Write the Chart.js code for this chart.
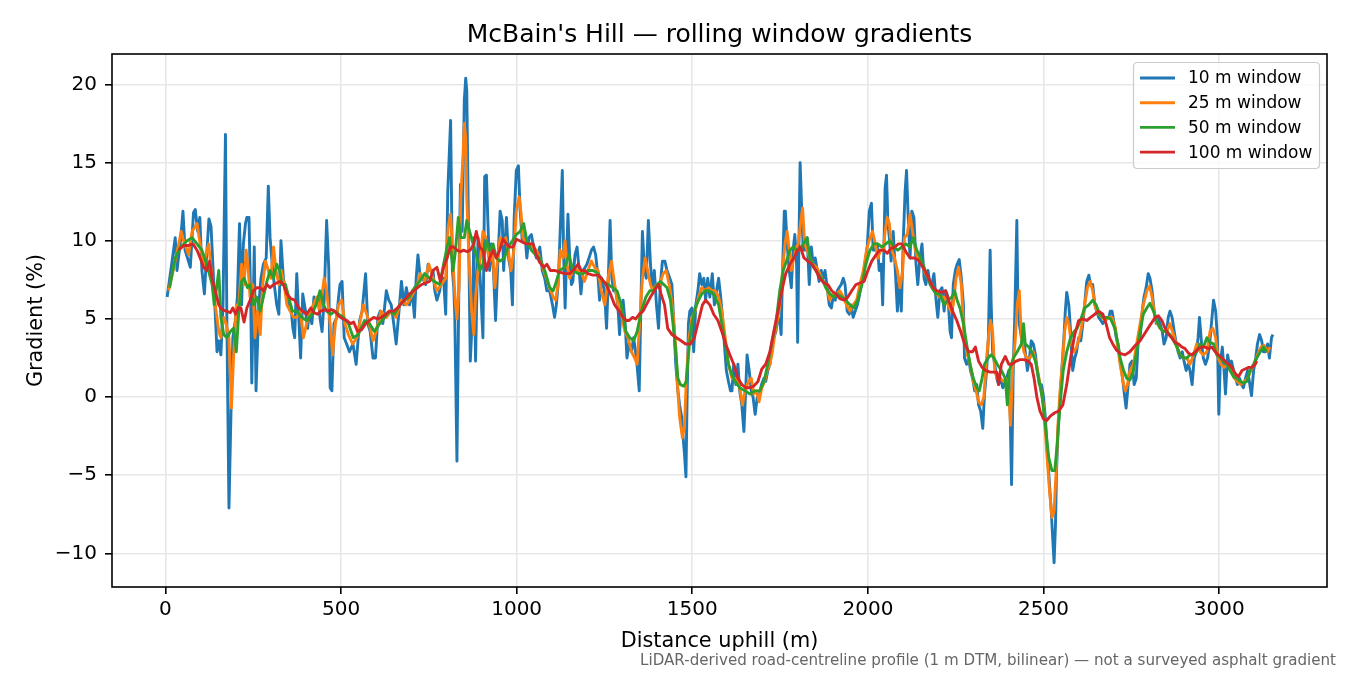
<!DOCTYPE html>
<html>
<head>
<meta charset="utf-8">
<title>McBain's Hill — rolling window gradients</title>
<script src="https://cdn.jsdelivr.net/npm/chart.js@4"></script>
<style>
  html, body { margin: 0; padding: 0; background: #fff; }
  canvas { display: block; }
</style>
</head>
<body>
<canvas id="chart" width="1350" height="675" style="width:1350px;height:675px"></canvas>
<script>
// values (distance in m, gradient in %)

const dist10 = [
  5, 19, 28, 33, 43, 50, 56, 63, 71, 80,
  85, 92, 98, 104, 111, 117, 124, 130, 137, 142,
  147, 152, 158, 164, 171, 175, 181, 187, 192, 199,
  205, 211, 217, 222, 228, 232, 238, 243, 246, 253,
  258, 266, 272, 279, 287, 293, 298, 304, 310, 317,
  323, 329, 336, 342, 349, 357, 363, 368, 374, 380,
  385, 391, 399, 405, 410, 417, 423, 429, 435, 440,
  446, 452, 459, 465, 469, 474, 480, 488, 493, 497,
  503, 509, 516, 524, 534, 543, 553, 560, 570, 576,
  583, 591, 598, 605, 612, 619, 629, 636, 643, 650,
  657, 665, 672, 679, 686, 695, 703, 709, 714, 719,
  726, 733, 741, 748, 754, 762, 767, 773, 781, 786,
  792, 798, 804, 812, 817, 821, 824, 830, 836, 840,
  845, 851, 855, 858, 862, 868, 874, 878, 883, 890,
  897, 904, 909, 914, 918, 923, 928, 934, 940, 947,
  953, 959, 963, 971, 977, 983, 988, 993, 999, 1005,
  1010, 1016, 1023, 1029, 1035, 1042, 1048, 1056, 1066, 1073,
  1080, 1086, 1094, 1102, 1108, 1113, 1118, 1122, 1126, 1130,
  1134, 1138, 1142, 1146, 1151, 1156, 1160, 1166, 1172, 1178,
  1183, 1189, 1195, 1200, 1206, 1213, 1219, 1225, 1232, 1236,
  1242, 1250, 1256, 1261, 1266, 1271, 1276, 1282, 1288, 1293,
  1298, 1303, 1309, 1314, 1320, 1327, 1333, 1341, 1349, 1354,
  1358, 1364, 1369, 1375, 1381, 1387, 1392, 1398, 1404, 1409,
  1415, 1422, 1428, 1436, 1442, 1447, 1453, 1459, 1464, 1470,
  1474, 1478, 1482, 1485, 1489, 1493, 1499, 1504, 1510, 1516,
  1521, 1527, 1533, 1538, 1544, 1550, 1557, 1563, 1569, 1575,
  1580, 1586, 1592, 1597, 1603, 1609, 1613, 1618, 1624, 1630,
  1635, 1641, 1647, 1652, 1656, 1662, 1668, 1673, 1679, 1685,
  1690, 1697, 1704, 1709, 1715, 1721, 1727, 1732, 1738, 1744,
  1749, 1753, 1757, 1762, 1765, 1770, 1776, 1782, 1787, 1792,
  1797, 1800, 1803, 1807, 1812, 1816, 1821, 1827, 1833, 1839,
  1844, 1850, 1856, 1861, 1867, 1873, 1878, 1884, 1890, 1896,
  1901, 1907, 1913, 1918, 1924, 1930, 1935, 1941, 1947, 1952,
  1958, 1964, 1970, 1975, 1981, 1987, 1992, 1998, 2004, 2010,
  2015, 2021, 2027, 2032, 2038, 2042, 2045, 2049, 2053, 2057,
  2061, 2066, 2072, 2078, 2084, 2089, 2095, 2101, 2106, 2110,
  2114, 2120, 2125, 2131, 2137, 2142, 2148, 2154, 2160, 2165,
  2171, 2177, 2182, 2188, 2194, 2199, 2205, 2211, 2217, 2222,
  2228, 2234, 2238, 2243, 2249, 2254, 2260, 2266, 2272, 2275,
  2281, 2287, 2292, 2298, 2304, 2310, 2315, 2321, 2327, 2332,
  2338, 2343, 2348, 2351, 2355, 2361, 2367, 2372, 2378, 2384,
  2389, 2395, 2401, 2405, 2409, 2414, 2418, 2424, 2427, 2431,
  2437, 2443, 2448, 2454, 2460, 2465, 2471, 2477, 2482, 2488,
  2494, 2500, 2505, 2511, 2517, 2522, 2526, 2530, 2534, 2537,
  2541, 2547, 2553, 2558, 2562, 2566, 2572, 2577, 2583, 2589,
  2594, 2600, 2606, 2612, 2617, 2623, 2629, 2634, 2640, 2646,
  2651, 2657, 2663, 2669, 2674, 2680, 2686, 2690, 2695, 2701,
  2707, 2712, 2718, 2724, 2729, 2735, 2741, 2746, 2752, 2758,
  2764, 2769, 2775, 2781, 2786, 2792, 2798, 2803, 2809, 2815,
  2821, 2826, 2832, 2838, 2843, 2849, 2855, 2860, 2866, 2872,
  2878, 2883, 2889, 2895, 2900, 2906, 2912, 2917, 2923, 2929,
  2935, 2940, 2944, 2950, 2955, 2961, 2967, 2973, 2978, 2984,
  2990, 2995, 2999, 3003, 3009, 3014, 3018, 3024, 3029, 3035,
  3041, 3047, 3052, 3058, 3064, 3069, 3075, 3081, 3086, 3092,
  3098, 3104, 3109, 3115, 3121, 3126, 3132, 3138, 3143, 3149,
  3153
];
const grad10 = [
  6.4, 8.7, 10.2, 8.1, 10.0, 11.9, 9.4, 8.9, 8.3, 11.8,
  12.0, 10.6, 11.5, 8.1, 6.6, 8.9, 11.4, 10.9, 7.6, 5.3,
  2.9, 3.6, 2.7, 5.9, 16.8, 4.9, -7.1, -0.7, 3.8, 4.9,
  6.4, 11.1, 5.9, 9.8, 11.1, 11.5, 11.5, 5.9, 0.9, 9.6,
  0.4, 5.9, 7.6, 8.5, 8.9, 13.5, 10.2, 8.5, 7.2, 5.9,
  5.3, 10.0, 7.6, 6.8, 5.9, 5.9, 4.4, 3.8, 7.9, 4.9,
  2.5, 6.6, 5.5, 4.4, 5.5, 4.7, 6.4, 5.9, 6.4, 5.1,
  4.2, 6.2, 11.3, 8.3, 0.6, 0.4, 4.7, 5.1, 6.4, 7.2,
  7.4, 3.8, 3.4, 2.9, 3.4, 2.1, 4.9, 5.5, 7.9, 4.7,
  4.2, 2.5, 2.5, 5.1, 5.5, 4.7, 6.8, 6.2, 5.9, 4.7,
  3.4, 5.5, 7.4, 5.9, 7.0, 5.9, 6.8, 5.1, 7.6, 9.1,
  7.6, 7.6, 7.2, 8.5, 8.1, 8.1, 6.8, 6.2, 6.8, 7.6,
  7.6, 5.3, 13.2, 17.7, 8.1, 7.0, 5.1, -4.1, 8.1, 13.6,
  10.6, 19.0, 20.4, 19.6, 12.4, 2.3, 5.1, 10.2, 2.3, 10.2,
  7.2, 3.8, 14.1, 14.2, 11.3, 8.1, 9.8, 8.1, 4.9, 8.9,
  11.9, 11.3, 8.1, 11.5, 8.9, 8.1, 5.9, 11.5, 14.5, 14.8,
  11.9, 10.0, 10.6, 8.9, 10.2, 10.4, 9.6, 8.9, 9.6, 8.1,
  7.6, 6.8, 6.8, 5.9, 5.1, 5.9, 7.2, 9.4, 11.9, 14.5,
  8.9, 5.7, 8.9, 11.7, 8.9, 7.2, 7.4, 9.1, 9.6, 8.1,
  6.6, 8.1, 8.3, 8.5, 8.9, 9.4, 9.6, 9.1, 7.6, 6.2,
  7.6, 6.8, 4.4, 7.6, 11.3, 7.6, 6.8, 6.8, 5.9, 4.0,
  5.9, 6.2, 4.7, 2.5, 3.4, 2.9, 3.8, 2.5, 0.4, 6.2,
  10.6, 8.1, 7.6, 11.3, 8.5, 6.8, 8.1, 5.9, 4.4, 7.2,
  8.7, 8.7, 8.1, 7.6, 7.2, 4.9, 2.1, 0.4, -0.5, -1.3,
  -2.6, -3.7, -5.1, -0.5, 4.7, 5.5, 5.7, 2.9, 5.9, 6.8,
  7.9, 7.2, 7.6, 6.2, 7.6, 6.4, 7.9, 5.9, 6.8, 7.6,
  6.6, 5.1, 3.2, 1.7, 1.0, 0.4, 0.4, 2.1, 0.8, 2.1,
  0.4, -0.5, -2.2, 0.4, 2.7, 1.7, 0.4, 0.0, -1.1, 0.0,
  0.0, 0.8, 1.2, 1.0, 1.7, 2.1, 3.2, 3.8, 4.2, 5.1,
  4.9, 4.0, 8.1, 11.9, 11.9, 9.8, 8.1, 7.0, 9.4, 10.4,
  8.5, 3.5, 8.9, 15.0, 11.7, 9.4, 9.4, 10.2, 7.2, 9.6,
  8.5, 8.9, 8.1, 7.4, 8.1, 7.6, 8.1, 7.0, 5.9, 5.7,
  6.4, 6.2, 6.8, 7.0, 7.2, 7.6, 7.2, 5.5, 5.3, 5.9,
  5.1, 5.5, 5.9, 6.4, 7.2, 7.6, 8.5, 9.6, 11.9, 12.4,
  9.4, 9.4, 9.8, 8.1, 8.5, 5.9, 8.9, 13.4, 14.2, 11.1,
  10.2, 8.7, 10.6, 8.1, 5.5, 7.6, 5.5, 10.2, 13.2, 14.5,
  11.9, 8.9, 11.9, 11.5, 8.5, 7.2, 8.9, 9.8, 7.6, 7.2,
  8.1, 7.2, 7.2, 7.9, 6.2, 5.1, 6.8, 7.0, 5.5, 6.8,
  6.4, 4.2, 3.8, 7.2, 8.1, 8.5, 8.8, 7.6, 5.9, 2.5,
  2.1, 2.5, 1.7, 1.2, 0.4, 0.8, -0.5, -0.9, -2.0, 0.2,
  1.7, 3.8, 9.4, 5.9, 2.9, 2.1, 1.2, 0.8, 1.2, 0.6,
  0.8, 1.2, 1.7, -1.0, -5.6, 2.1, 5.1, 11.3, 5.9, 4.7,
  3.8, 4.0, 2.9, 1.7, 2.5, 3.6, 3.4, 2.7, 1.7, 0.8,
  0.8, 0.0, -1.3, -3.5, -5.6, -7.3, -9.0, -10.6, -8.2, -4.7,
  -2.2, 0.0, 2.1, 3.8, 5.5, 6.7, 5.9, 4.2, 1.7, 2.5,
  2.9, 3.8, 3.6, 4.7, 5.9, 7.4, 7.8, 7.2, 7.2, 5.9,
  5.5, 5.1, 4.9, 4.7, 4.9, 5.1, 5.1, 5.5, 5.5, 4.7,
  3.8, 3.4, 2.3, 1.4, 0.4, -0.7, 0.8, 2.1, 2.3, 0.8,
  1.2, 3.4, 3.8, 5.5, 6.4, 7.0, 7.9, 7.6, 6.8, 5.5,
  4.7, 5.1, 4.7, 4.2, 3.4, 3.8, 5.1, 5.5, 5.1, 4.2,
  3.4, 2.9, 2.5, 2.9, 2.3, 1.7, 2.1, 1.7, 0.8, 2.5,
  2.9, 3.8, 5.1, 3.4, 2.5, 2.1, 2.5, 3.4, 4.7, 6.2,
  5.5, 3.8, -1.1, 2.1, 3.2, 1.7, 0.2, 2.7, 2.1, 2.3,
  1.7, 1.2, 0.8, 1.2, 0.8, 0.6, 1.2, 1.7, 1.0, 0.1,
  1.7, 2.5, 3.4, 4.0, 3.6, 2.9, 2.9, 3.4, 2.5, 3.8,
  4.0
];

const dist25 = [
  9, 24, 38, 45, 52, 66, 76, 90, 99, 109,
  123, 133, 142, 152, 158, 166, 173, 181, 188, 194,
  202, 209, 217, 224, 230, 236, 241, 249, 255, 262,
  270, 277, 285, 293, 300, 308, 315, 323, 330, 338,
  346, 355, 365, 374, 384, 393, 402, 412, 421, 431,
  440, 452, 459, 469, 476, 484, 493, 502, 511, 521,
  533, 545, 553, 564, 576, 591, 600, 614, 629, 643,
  657, 671, 686, 700, 714, 726, 738, 750, 762, 773,
  785, 798, 805, 812, 819, 826, 830, 836, 841, 847,
  851, 855, 858, 864, 872, 878, 883, 890, 897, 904,
  912, 917, 923, 931, 938, 946, 953, 961, 969, 976,
  984, 992, 999, 1007, 1012, 1018, 1028, 1037, 1047, 1056,
  1066, 1080, 1094, 1104, 1111, 1118, 1124, 1132, 1138, 1143,
  1151, 1160, 1172, 1183, 1193, 1203, 1213, 1222, 1232, 1241,
  1251, 1260, 1270, 1279, 1289, 1298, 1308, 1317, 1327, 1336,
  1343, 1350, 1358, 1366, 1373, 1381, 1388, 1398, 1407, 1417,
  1426, 1436, 1445, 1453, 1459, 1464, 1472, 1478, 1483, 1491,
  1499, 1508, 1518, 1527, 1537, 1546, 1556, 1565, 1575, 1584,
  1594, 1603, 1613, 1622, 1632, 1643, 1650, 1660, 1668, 1675,
  1683, 1690, 1698, 1706, 1713, 1721, 1728, 1736, 1744, 1751,
  1757, 1764, 1770, 1776, 1782, 1789, 1797, 1802, 1808, 1814,
  1820, 1827, 1835, 1844, 1854, 1863, 1873, 1882, 1892, 1901,
  1911, 1920, 1930, 1939, 1949, 1958, 1968, 1977, 1987, 1996,
  2006, 2013, 2021, 2028, 2036, 2044, 2049, 2055, 2061, 2068,
  2076, 2084, 2091, 2099, 2104, 2112, 2120, 2127, 2135, 2142,
  2150, 2160, 2171, 2182, 2194, 2205, 2217, 2228, 2236, 2243,
  2251, 2258, 2266, 2273, 2281, 2291, 2300, 2308, 2315, 2323,
  2330, 2338, 2344, 2349, 2355, 2361, 2368, 2376, 2386, 2393,
  2401, 2406, 2412, 2420, 2425, 2431, 2437, 2444, 2452, 2461,
  2471, 2480, 2490, 2500, 2509, 2517, 2524, 2530, 2536, 2541,
  2547, 2555, 2560, 2566, 2572, 2579, 2587, 2594, 2602, 2610,
  2617, 2625, 2633, 2640, 2648, 2657, 2667, 2676, 2686, 2695,
  2705, 2710, 2718, 2728, 2733, 2739, 2746, 2756, 2765, 2775,
  2784, 2794, 2802, 2809, 2817, 2824, 2832, 2841, 2851, 2860,
  2870, 2880, 2889, 2898, 2908, 2917, 2927, 2936, 2946, 2955,
  2965, 2974, 2982, 2990, 2997, 3005, 3014, 3024, 3033, 3043,
  3052, 3062, 3071, 3081, 3090, 3100, 3109, 3119, 3128, 3138,
  3145
];
const grad25 = [
  6.8, 8.3, 9.8, 10.6, 10.0, 9.1, 10.6, 11.1, 9.8, 8.5,
  9.8, 7.6, 5.9, 4.2, 3.8, 5.1, 4.7, 3.8, -0.7, 2.5,
  5.9, 5.9, 8.5, 7.2, 9.4, 8.1, 6.4, 7.2, 3.8, 5.5,
  4.0, 7.2, 8.7, 8.1, 7.6, 9.6, 8.1, 7.2, 8.1, 7.2,
  5.9, 5.5, 5.1, 5.1, 5.5, 3.8, 4.7, 5.5, 5.9, 6.4,
  5.5, 7.6, 6.8, 4.7, 2.7, 4.7, 5.9, 6.2, 4.7, 4.0,
  3.4, 3.8, 4.7, 5.9, 5.1, 3.6, 4.2, 5.5, 5.1, 5.5,
  5.1, 6.2, 5.9, 6.4, 7.0, 7.9, 7.4, 8.5, 7.6, 6.8,
  7.2, 7.6, 10.9, 11.7, 8.5, 5.9, 5.0, 7.0, 12.8, 15.3,
  17.5, 16.6, 12.8, 8.9, 5.5, 4.0, 6.4, 8.1, 8.9, 10.6,
  10.2, 9.4, 8.7, 9.4, 7.0, 8.9, 10.2, 9.8, 10.2, 9.4,
  8.1, 9.4, 11.9, 12.8, 11.9, 10.2, 9.8, 9.8, 9.6, 9.4,
  8.9, 7.9, 7.0, 6.4, 6.2, 7.2, 9.4, 8.9, 10.0, 8.5,
  7.6, 8.1, 8.1, 8.1, 7.4, 8.1, 8.7, 8.3, 8.1, 6.8,
  5.9, 7.6, 8.7, 7.2, 5.9, 5.3, 4.2, 3.8, 2.9, 2.5,
  2.1, 4.7, 7.6, 8.9, 8.1, 7.2, 6.8, 7.2, 7.2, 7.9,
  8.1, 7.0, 5.5, 3.2, 0.4, -1.3, -2.6, -1.8, 1.2, 3.8,
  5.1, 5.5, 6.4, 7.0, 6.8, 7.0, 6.8, 6.8, 6.4, 5.5,
  3.8, 2.1, 1.2, 1.2, 1.0, -0.5, 0.4, 1.0, 1.2, 0.2,
  0.4, -0.3, 0.6, 1.0, 1.7, 2.1, 2.9, 4.2, 5.1, 6.2,
  8.1, 9.8, 10.6, 9.4, 8.1, 8.9, 9.6, 9.8, 11.1, 12.1,
  9.8, 9.4, 8.9, 8.5, 8.3, 7.9, 7.4, 7.0, 6.2, 6.6,
  6.6, 6.8, 6.4, 5.9, 5.5, 5.9, 6.2, 7.2, 8.1, 9.4,
  10.2, 10.6, 9.8, 8.9, 9.4, 9.4, 10.6, 11.5, 11.1, 9.4,
  8.9, 8.1, 7.0, 8.1, 10.2, 10.4, 11.7, 10.6, 9.4, 8.9,
  8.7, 8.1, 7.6, 7.2, 6.6, 6.4, 6.4, 5.9, 5.5, 5.9,
  7.6, 8.3, 7.2, 4.2, 2.9, 2.1, 1.0, 0.4, -0.3, -0.5,
  0.0, 2.5, 4.0, 4.9, 4.2, 1.7, 1.2, 1.2, 1.0, 1.2,
  0.4, -1.8, 1.7, 3.8, 5.9, 6.8, 3.8, 2.9, 2.5, 2.5,
  2.9, 2.1, 0.8, -0.5, -3.5, -6.0, -7.7, -7.3, -4.7, -1.8,
  0.4, 2.5, 4.2, 5.1, 4.7, 3.4, 2.9, 3.2, 3.8, 4.7,
  5.9, 7.0, 7.4, 6.8, 5.7, 5.3, 5.1, 4.9, 5.1, 5.1,
  4.4, 3.4, 2.1, 0.8, 0.4, 0.8, 1.7, 2.1, 3.4, 4.7,
  5.9, 6.8, 7.1, 6.4, 5.1, 4.7, 4.4, 4.2, 4.2, 4.7,
  4.0, 3.2, 2.7, 2.5, 2.5, 2.1, 2.7, 3.4, 2.9, 2.7,
  2.9, 4.2, 4.4, 3.8, 2.5, 2.1, 1.9, 2.1, 1.9, 1.2,
  1.0, 0.8, 1.0, 1.2, 1.7, 2.1, 2.7, 3.2, 3.3, 2.9,
  3.2
];

const dist50 = [
  12, 28, 43, 62, 76, 90, 104, 118, 133, 139,
  147, 152, 158, 166, 175, 185, 194, 202, 209, 217,
  224, 234, 241, 251, 260, 270, 279, 289, 298, 308,
  317, 325, 332, 342, 351, 361, 374, 388, 402, 417,
  429, 440, 450, 459, 471, 482, 493, 507, 521, 535,
  549, 567, 581, 595, 610, 624, 638, 652, 667, 681,
  695, 709, 724, 738, 752, 766, 781, 792, 802, 809,
  819, 826, 834, 841, 851, 858, 866, 876, 885, 895,
  904, 914, 923, 933, 942, 953, 965, 976, 988, 999,
  1010, 1020, 1029, 1042, 1054, 1066, 1080, 1094, 1104, 1113,
  1122, 1137, 1149, 1160, 1175, 1189, 1203, 1218, 1232, 1246,
  1260, 1274, 1286, 1298, 1311, 1322, 1333, 1343, 1355, 1368,
  1379, 1390, 1400, 1409, 1419, 1428, 1438, 1445, 1453, 1459,
  1466, 1476, 1483, 1491, 1499, 1508, 1518, 1527, 1537, 1546,
  1556, 1565, 1575, 1584, 1594, 1603, 1613, 1622, 1635, 1650,
  1664, 1678, 1692, 1704, 1715, 1726, 1738, 1749, 1759, 1768,
  1778, 1787, 1797, 1806, 1816, 1827, 1835, 1846, 1858, 1869,
  1880, 1892, 1903, 1914, 1926, 1937, 1949, 1960, 1971, 1983,
  1994, 2006, 2017, 2028, 2040, 2051, 2063, 2074, 2085, 2097,
  2108, 2120, 2129, 2139, 2150, 2160, 2171, 2182, 2194, 2205,
  2217, 2228, 2239, 2247, 2254, 2262, 2272, 2281, 2291, 2300,
  2310, 2317, 2325, 2332, 2342, 2351, 2359, 2368, 2380, 2391,
  2397, 2403, 2414, 2425, 2437, 2443, 2448, 2458, 2467, 2477,
  2486, 2496, 2505, 2515, 2524, 2532, 2539, 2547, 2556, 2566,
  2577, 2587, 2596, 2608, 2617, 2629, 2640, 2650, 2659, 2669,
  2680, 2691, 2703, 2712, 2718, 2728, 2737, 2746, 2756, 2765,
  2775, 2784, 2794, 2803, 2813, 2822, 2832, 2841, 2851, 2860,
  2870, 2880, 2889, 2898, 2908, 2917, 2927, 2936, 2946, 2955,
  2965, 2974, 2984, 2993, 3003, 3012, 3022, 3031, 3041, 3050,
  3060, 3069, 3079, 3088, 3098, 3107, 3117, 3126, 3136
];
const grad50 = [
  7.0, 8.9, 9.6, 10.0, 10.2, 9.8, 9.4, 8.5, 7.2, 5.9,
  7.2, 8.1, 5.1, 4.0, 3.8, 4.2, 4.4, 2.9, 5.5, 7.4,
  7.6, 7.0, 7.2, 5.9, 6.4, 5.5, 6.4, 7.4, 8.1, 7.6,
  8.5, 8.1, 7.2, 7.2, 6.4, 5.5, 5.5, 5.1, 4.9, 5.3,
  5.9, 6.8, 5.9, 5.5, 5.3, 5.5, 5.3, 5.1, 4.7, 3.8,
  4.0, 4.9, 4.7, 4.2, 4.7, 5.1, 5.5, 5.3, 5.9, 6.2,
  6.4, 7.0, 7.4, 7.9, 7.6, 7.4, 7.2, 8.5, 9.6, 10.2,
  8.1, 9.4, 11.5, 10.2, 10.2, 11.3, 10.6, 9.8, 9.1, 8.1,
  8.5, 10.0, 9.4, 9.8, 8.9, 8.7, 8.9, 9.6, 10.0, 10.4,
  10.6, 11.1, 10.0, 9.4, 9.1, 8.9, 8.1, 7.0, 6.8, 7.4,
  8.1, 8.3, 9.1, 8.1, 7.9, 7.9, 8.1, 8.1, 7.9, 7.4,
  7.2, 7.0, 6.8, 5.9, 4.2, 3.8, 3.6, 4.2, 5.5, 6.4,
  6.8, 6.8, 7.2, 7.4, 7.2, 7.0, 6.2, 4.7, 2.9, 1.2,
  0.8, 0.7, 1.0, 3.2, 4.7, 5.7, 6.2, 6.6, 6.8, 6.8,
  6.7, 6.4, 5.9, 4.7, 3.4, 2.1, 1.4, 1.0, 0.6, 0.4,
  0.2, 0.4, 0.4, 1.0, 2.1, 3.4, 4.7, 6.8, 8.1, 8.7,
  9.4, 9.6, 9.4, 9.4, 9.8, 10.2, 8.9, 8.3, 7.9, 7.6,
  7.0, 6.6, 6.4, 6.6, 6.4, 6.2, 5.9, 5.7, 6.2, 7.2,
  8.5, 9.4, 9.8, 9.8, 9.6, 9.8, 10.0, 9.6, 9.4, 9.6,
  9.8, 9.6, 10.2, 9.4, 8.9, 8.3, 7.6, 7.0, 6.6, 6.6,
  5.9, 6.2, 6.4, 6.8, 6.2, 5.7, 4.7, 3.4, 2.1, 1.2,
  0.6, 0.4, 1.2, 2.1, 2.5, 2.7, 2.5, 2.1, 1.7, 1.2,
  -0.5, 1.7, 2.5, 2.9, 3.4, 4.7, 3.4, 3.2, 2.9, 2.3,
  1.2, 0.0, -1.8, -3.9, -4.7, -4.7, -3.0, -0.5, 1.7, 2.9,
  3.8, 4.2, 4.4, 5.1, 5.7, 5.9, 6.2, 5.9, 5.3, 5.1,
  5.1, 5.0, 4.4, 3.4, 2.5, 1.7, 1.2, 1.1, 1.7, 2.9,
  4.2, 5.3, 5.7, 6.0, 5.5, 4.9, 4.4, 4.2, 4.2, 4.0,
  3.6, 3.2, 2.7, 2.5, 2.5, 2.7, 2.7, 2.9, 3.4, 3.2,
  3.8, 3.5, 3.4, 2.7, 2.5, 2.3, 2.1, 1.7, 1.3, 1.2,
  1.0, 0.9, 1.0, 1.7, 2.1, 2.5, 2.9, 3.2, 2.9
];

const dist100 = [
  38, 52, 66, 79, 90, 99, 109, 118, 126, 133,
  142, 152, 161, 173, 185, 192, 200, 207, 215, 224,
  232, 241, 251, 260, 270, 279, 289, 298, 308, 317,
  327, 336, 346, 357, 368, 380, 391, 402, 414, 423,
  433, 442, 454, 463, 473, 482, 493, 505, 516, 527,
  536, 547, 558, 570, 581, 593, 604, 615, 627, 638,
  650, 661, 672, 684, 695, 707, 718, 729, 741, 752,
  762, 773, 783, 792, 802, 811, 821, 830, 840, 849,
  859, 868, 878, 885, 895, 904, 914, 923, 933, 942,
  952, 961, 971, 980, 990, 999, 1009, 1018, 1028, 1037,
  1047, 1056, 1066, 1077, 1086, 1096, 1108, 1122, 1137, 1151,
  1165, 1175, 1184, 1194, 1203, 1217, 1232, 1241, 1255, 1267,
  1279, 1292, 1303, 1312, 1320, 1330, 1339, 1349, 1360, 1369,
  1381, 1392, 1404, 1411, 1421, 1430, 1442, 1455, 1468, 1481,
  1495, 1506, 1518, 1529, 1538, 1550, 1561, 1573, 1584, 1595,
  1607, 1618, 1630, 1641, 1652, 1664, 1675, 1687, 1698, 1709,
  1721, 1732, 1744, 1755, 1766, 1778, 1789, 1800, 1808, 1818,
  1829, 1840, 1852, 1863, 1875, 1886, 1897, 1909, 1920, 1932,
  1943, 1954, 1966, 1977, 1989, 2000, 2011, 2023, 2034, 2046,
  2055, 2065, 2076, 2087, 2097, 2108, 2120, 2131, 2142, 2154,
  2167, 2177, 2186, 2197, 2209, 2220, 2230, 2241, 2253, 2264,
  2275, 2287, 2298, 2306, 2315, 2325, 2336, 2348, 2359, 2367,
  2372, 2380, 2391, 2401, 2410, 2422, 2433, 2444, 2456, 2465,
  2473, 2481, 2490, 2500, 2509, 2520, 2532, 2543, 2555, 2566,
  2577, 2589, 2600, 2612, 2623, 2634, 2646, 2657, 2669, 2678,
  2688, 2697, 2708, 2718, 2732, 2746, 2761, 2775, 2789, 2803,
  2818, 2827, 2837, 2846, 2856, 2865, 2875, 2884, 2894, 2903,
  2913, 2922, 2932, 2941, 2951, 2960, 2970, 2979, 2989, 2998,
  3008, 3017, 3027, 3036, 3046, 3055, 3065, 3074, 3084, 3093,
  3103, 3107
];
const grad100 = [
  9.4, 9.7, 9.7, 9.8, 9.4, 8.9, 8.3, 8.1, 8.7, 7.6,
  6.8, 5.9, 5.6, 5.5, 5.4, 5.7, 5.3, 5.7, 5.7, 4.8,
  5.7, 6.2, 6.8, 7.0, 7.0, 6.8, 7.2, 7.0, 7.2, 7.3,
  7.4, 7.2, 6.6, 6.3, 6.2, 5.7, 5.5, 5.3, 5.7, 5.4,
  5.3, 5.5, 5.6, 5.5, 5.6, 5.5, 5.2, 5.0, 4.9, 4.7,
  4.8, 4.2, 4.3, 4.7, 4.9, 5.1, 5.0, 5.1, 5.3, 5.5,
  5.5, 5.7, 6.0, 6.3, 6.6, 6.8, 7.0, 7.2, 7.3, 7.4,
  8.1, 8.3, 7.4, 8.3, 8.9, 9.6, 9.6, 9.4, 9.3, 9.4,
  9.3, 9.4, 9.8, 10.6, 9.6, 9.4, 8.1, 8.9, 9.4, 8.9,
  9.4, 10.1, 9.8, 9.6, 9.6, 10.1, 10.0, 9.9, 9.8, 9.8,
  9.8, 9.1, 8.6, 8.3, 8.5, 8.1, 8.1, 8.0, 7.9, 7.9,
  8.2, 8.5, 8.1, 8.1, 7.9, 7.8, 7.8, 7.6, 7.2, 6.6,
  5.9, 5.5, 5.1, 4.9, 4.9, 5.1, 5.0, 5.3, 5.5, 5.9,
  6.4, 6.8, 7.2, 6.6, 5.9, 4.4, 4.0, 3.8, 3.6, 3.4,
  3.4, 3.8, 4.9, 5.9, 6.2, 5.9, 5.3, 4.9, 4.2, 3.4,
  2.7, 2.1, 1.2, 0.8, 0.6, 0.6, 0.7, 1.0, 1.8, 2.1,
  2.9, 4.2, 5.5, 6.8, 7.9, 8.5, 8.9, 9.4, 9.6, 8.9,
  8.7, 8.5, 8.1, 7.6, 7.3, 7.2, 6.8, 6.6, 6.3, 6.2,
  6.4, 6.8, 7.2, 7.3, 7.4, 8.1, 8.7, 9.1, 9.4, 9.4,
  9.2, 9.5, 9.6, 9.8, 9.8, 9.3, 8.9, 8.9, 8.8, 8.4,
  7.9, 7.4, 7.0, 6.8, 6.7, 6.8, 6.2, 5.5, 4.9, 4.2,
  3.4, 2.9, 2.9, 3.2, 2.3, 1.9, 1.7, 1.6, 1.6, 1.6,
  0.8, 2.1, 2.6, 2.1, 2.1, 2.3, 2.4, 2.4, 2.3, 2.1,
  1.2, 0.0, -0.9, -1.4, -1.5, -1.2, -1.0, -0.9, -0.5, 0.8,
  2.5, 4.0, 4.9, 5.0, 4.9, 5.1, 5.3, 5.5, 5.3, 4.7,
  3.8, 3.4, 3.0, 2.8, 2.7, 2.9, 3.3, 3.6, 4.1, 4.6,
  5.1, 5.2, 4.9, 4.4, 4.0, 3.8, 3.5, 3.4, 3.2, 3.1,
  2.8, 2.7, 2.9, 3.1, 3.2, 3.2, 3.1, 3.2, 2.9, 2.7,
  2.5, 2.3, 2.1, 1.9, 1.5, 1.3, 1.7, 1.8, 1.9, 1.9,
  2.1, 2.3
];

const seriesNames = ['10 m window', '25 m window', '50 m window', '100 m window'];
const xTicks = [0, 500, 1000, 1500, 2000, 2500, 3000];
const yTicks = [-10, -5, 0, 5, 10, 15, 20];

const colours = ['#1f77b4', '#ff7f0e', '#2ca02c', '#d62728'];
const FONT = 'DejaVu Sans';
const LINE_W = 2.9;

function points(xs, ys) {
  const n = Math.min(xs.length, ys.length);
  if (xs.length !== ys.length) console.warn('length mismatch', xs.length, ys.length);
  const out = [];
  for (let i = 0; i < n; i++) out.push({ x: xs[i], y: ys[i] });
  return out;
}

const allSeries = [[dist10, grad10], [dist25, grad25], [dist50, grad50], [dist100, grad100]];

const datasets = allSeries.map(([xs, ys], i) => ({
  label: seriesNames[i],
  data: points(xs, ys),
  borderColor: colours[i],
  backgroundColor: colours[i],
  borderWidth: LINE_W,
  borderJoinStyle: 'round',
  borderCapStyle: 'butt',
  pointRadius: 0,
  tension: 0,
  fill: false,
  order: 4 - i   // red drawn last, on top
}));

const minus = v => String(v).replace('-', '\u2212');

// frame, title, axis labels, legend and the note under the plot
const decorations = {
  id: 'decorations',
  afterDraw(chart) {
    const { ctx, chartArea: a } = chart;
    ctx.save();

    ctx.strokeStyle = '#000';
    ctx.lineWidth = 1.6;
    ctx.strokeRect(a.left, a.top, a.right - a.left, a.bottom - a.top);

    const cx = (a.left + a.right) / 2;
    ctx.fillStyle = '#000';
    ctx.textAlign = 'center';
    ctx.textBaseline = 'alphabetic';
    ctx.font = `25px "${FONT}"`;
    ctx.fillText("McBain's Hill \u2014 rolling window gradients", cx, 42);

    ctx.font = `20.8px "${FONT}"`;
    ctx.fillText('Distance uphill (m)', cx, 647);

    ctx.save();
    ctx.translate(42, (a.top + a.bottom) / 2);
    ctx.rotate(-Math.PI / 2);
    ctx.fillText('Gradient (%)', 0, 0);
    ctx.restore();

    ctx.font = `15.1px "${FONT}"`;
    ctx.fillStyle = '#666';
    ctx.textAlign = 'right';
    ctx.fillText('LiDAR-derived road-centreline profile (1 m DTM, bilinear) \u2014 not a surveyed asphalt gradient', 1336, 665);

    // legend box, upper right
    const bx = 1133.5, by = 62.5, bw = 186, bh = 106, r = 4;
    ctx.beginPath();
    ctx.moveTo(bx + r, by);
    ctx.lineTo(bx + bw - r, by);
    ctx.quadraticCurveTo(bx + bw, by, bx + bw, by + r);
    ctx.lineTo(bx + bw, by + bh - r);
    ctx.quadraticCurveTo(bx + bw, by + bh, bx + bw - r, by + bh);
    ctx.lineTo(bx + r, by + bh);
    ctx.quadraticCurveTo(bx, by + bh, bx, by + bh - r);
    ctx.lineTo(bx, by + r);
    ctx.quadraticCurveTo(bx, by, bx + r, by);
    ctx.closePath();
    ctx.fillStyle = 'rgba(255,255,255,0.8)';
    ctx.fill();
    ctx.strokeStyle = '#cccccc';
    ctx.lineWidth = 1.2;
    ctx.stroke();

    ctx.font = `17px "${FONT}"`;
    ctx.textAlign = 'left';
    ctx.textBaseline = 'middle';
    seriesNames.forEach((name, i) => {
      const y = 78 + i * 24.7;
      ctx.strokeStyle = colours[i];
      ctx.lineWidth = LINE_W;
      ctx.beginPath();
      ctx.moveTo(1140, y);
      ctx.lineTo(1175, y);
      ctx.stroke();
      ctx.fillStyle = '#000';
      ctx.fillText(name, 1188, y + 1);
    });

    ctx.restore();
  }
};

new Chart(document.getElementById('chart'), {
  type: 'line',
  data: { datasets },
  options: {
    responsive: false,
    animation: false,
    devicePixelRatio: 1,
    layout: { padding: { left: 0, right: 23, top: 54, bottom: 0 } },
    plugins: { legend: { display: false }, tooltip: { enabled: false } },
    scales: {
      x: {
        type: 'linear',
        min: -152,
        max: 3307,
        afterBuildTicks: s => { s.ticks = xTicks.map(v => ({ value: v })); },
        afterFit: s => { s.height = 88; },
        grid: { color: '#e7e7e7', lineWidth: 1.6, tickLength: 7, tickColor: '#000', tickWidth: 1.6 },
        border: { display: false },
        ticks: {
          autoSkip: false, maxRotation: 0, padding: 4, color: '#000',
          font: { family: FONT, size: 20 },
          callback: v => minus(v)
        }
      },
      y: {
        min: -12.15,
        max: 21.95,
        afterBuildTicks: s => { s.ticks = yTicks.map(v => ({ value: v })); },
        afterFit: s => { s.width = 112; },
        grid: { color: '#e7e7e7', lineWidth: 1.6, tickLength: 7, tickColor: '#000', tickWidth: 1.6 },
        border: { display: false },
        ticks: {
          autoSkip: false, padding: 8, color: '#000',
          font: { family: FONT, size: 20 },
          callback: v => minus(v)
        }
      }
    }
  },
  plugins: [decorations]
});
</script>
</body>
</html>
